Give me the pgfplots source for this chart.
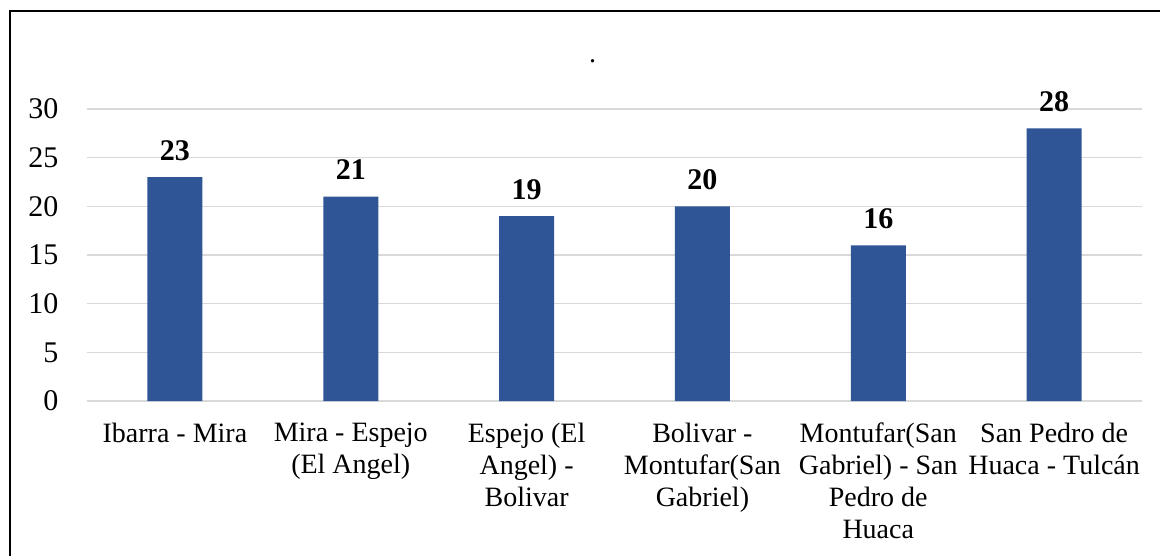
\documentclass[border=0pt]{standalone}
\usepackage{fontspec}
\setmainfont{LiberationSerif}[Extension=.ttf, UprightFont=*-Regular, BoldFont=*-Bold, ItalicFont=*-Italic, BoldItalicFont=*-BoldItalic]
\usepackage{pgfplots}
\pgfplotsset{compat=1.18}
\definecolor{barblue}{HTML}{2F5597}
\definecolor{gridgray}{HTML}{D9D9D9}
\begin{document}
\rmfamily\fontsize{14}{16}\selectfont
\begin{tikzpicture}[x=1pt,y=1pt]
\path[use as bounding box, fill=white] (0,0) rectangle (580,278);
\draw[line width=1pt] (5,0) -- (5,272.5) -- (580,272.5);
\begin{axis}[
  at={(43.5pt,77.5pt)}, anchor=south west,
  scale only axis, width=527.5pt, height=146pt,
  xmin=-0.5, xmax=5.5, ymin=0, ymax=30,
  ytick={0,5,...,30},
  xtick={0,...,5},
  xticklabels={
    {Ibarra - Mira},
    {Mira - Espejo\\(El Angel)},
    {Espejo (El\\Angel) -\\Bolivar},
    {Bolivar -\\Montufar(San\\Gabriel)},
    {Montufar(San\\Gabriel) - San\\Pedro de\\Huaca},
    {San Pedro de\\Huaca - Tulcán}},
  x tick label style={align=center, font=\rmfamily\fontsize{14}{16}\selectfont, anchor=north, yshift=-2pt},
  y tick label style={font=\rmfamily\fontsize{15}{17}\selectfont, anchor=east, xshift=-9.5pt},
  /pgf/number format/assume math mode=true,
  ymajorgrids, grid style={draw=gridgray, line width=0.7pt},
  axis line style={draw=none},
  major tick style={draw=none},
  title={.}, title style={at={(0.5,1)}, anchor=base, yshift=17pt, xshift=-11pt, font=\rmfamily\fontsize{14}{16}\selectfont},
  ybar, bar width=27.5pt,
  nodes near coords,
  every node near coord/.append style={font=\rmfamily\bfseries\fontsize{15}{17}\selectfont, text=black, yshift=3.5pt},
]
\addplot[fill=barblue, draw=none] coordinates {(0,23) (1,21) (2,19) (3,20) (4,16) (5,28)};
\end{axis}
\end{tikzpicture}
\end{document}
